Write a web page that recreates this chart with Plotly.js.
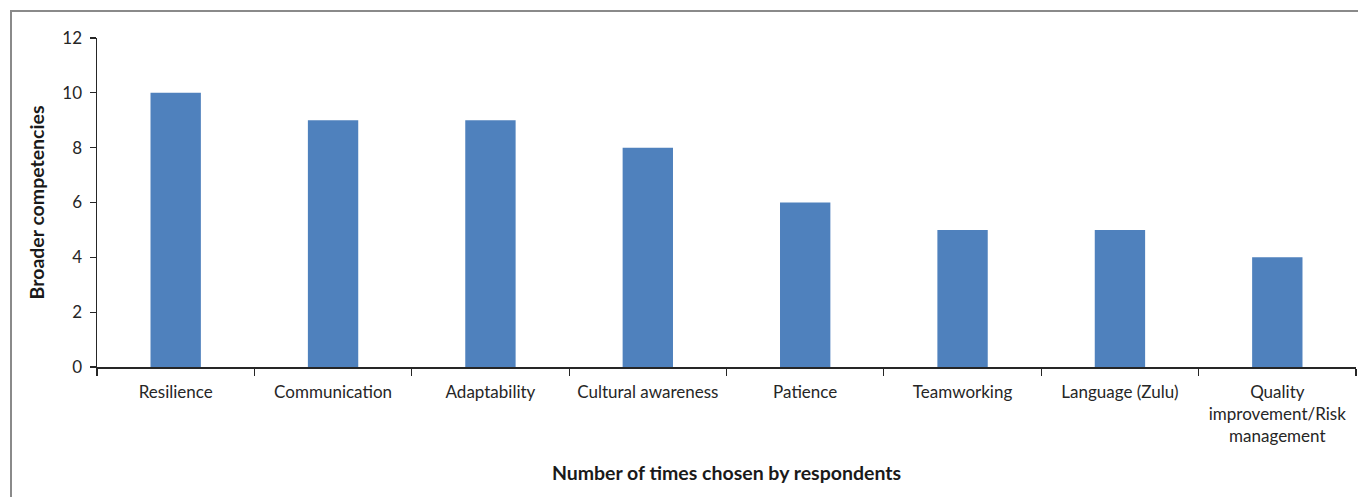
<!DOCTYPE html>
<html>
<head>
<meta charset="utf-8">
<script src="https://cdn.plot.ly/plotly-3.0.1.min.js"></script>
<style>
  html, body { margin: 0; padding: 0; background: #fff; overflow: hidden; }
  #wrap { position: relative; width: 1358px; height: 497px; }
  #chart { position: absolute; left: 0; top: 0; width: 1358px; height: 497px; }
  #frame { position: absolute; left: 10px; top: 10px; width: 1400px; height: 600px;
           border-left: 2px solid #8a8a8a; border-top: 2px solid #8a8a8a; pointer-events: none; }
</style>
</head>
<body>
<div id="wrap">
  <div id="chart"></div>
  <div id="frame"></div>
</div>
<script>
const categories = ["Resilience", "Communication", "Adaptability", "Cultural awareness",
                    "Patience", "Teamworking", "Language (Zulu)",
                    "Quality<br>improvement/Risk<br>management"];
const counts = [10, 9, 9, 8, 6, 5, 5, 4];
const yTicks = [0, 2, 4, 6, 8, 10, 12];

const font = "Lato, 'Open Sans', 'DejaVu Sans', sans-serif";

Plotly.newPlot("chart", [{
  type: "bar",
  x: categories,
  y: counts,
  marker: { color: "#4F81BD" },
  hoverinfo: "x+y"
}], {
  width: 1358,
  height: 497,
  margin: { l: 97, r: 2, t: 38, b: 130 },
  paper_bgcolor: "#ffffff",
  plot_bgcolor: "#ffffff",
  bargap: 0.68,
  showlegend: false,
  font: { family: font, size: 17, color: "#262626" },
  xaxis: {
    type: "category",
    showline: true, linecolor: "#262626", linewidth: 1.5,
    ticks: "outside", tickson: "boundaries", ticklen: 7, tickcolor: "#262626", tickwidth: 1.2,
    ticklabelstandoff: 9,
    showgrid: false, zeroline: false,
    tickfont: { family: font, size: 17, color: "#262626" },
    title: { text: "Number of times chosen by respondents", standoff: 21,
             font: { family: font, size: 19.5, color: "#1a1a1a", weight: "bold" } },
    automargin: false
  },
  yaxis: {
    range: [0, 12],
    tickvals: yTicks,
    showline: true, linecolor: "#262626", linewidth: 1.5,
    ticks: "outside", ticklen: 6, tickcolor: "#262626", tickwidth: 1.2,
    ticklabelstandoff: 4,
    showgrid: false, zeroline: false,
    tickfont: { family: font, size: 17, color: "#262626" },
    title: { text: "Broader competencies", standoff: 12,
             font: { family: font, size: 19.5, color: "#1a1a1a", weight: "bold" } },
    automargin: false
  }
}, { displayModeBar: false, staticPlot: true });
</script>
</body>
</html>
